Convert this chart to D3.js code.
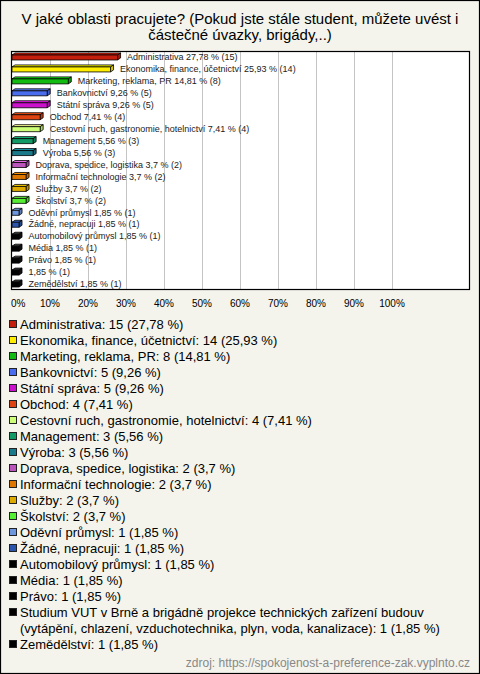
<!DOCTYPE html>
<html>
<head>
<meta charset="utf-8">
<script src="https://cdn.jsdelivr.net/npm/d3@7"></script>
<style>
  html, body { margin: 0; padding: 0; background: #f4f4ec; }
  svg { display: block; }
  text { font-family: Arial, "Liberation Sans", sans-serif; }
</style>
</head>
<body>
<svg id="chart" width="480" height="674"></svg>
<script>
const titleLines = [
  "V jaké oblasti pracujete? (Pokud jste stále student, můžete uvést i",
  "částečné úvazky, brigády,..)"
];
const categories = [
  "Administrativa",
  "Ekonomika, finance, účetnictví",
  "Marketing, reklama, PR",
  "Bankovnictví",
  "Státní správa",
  "Obchod",
  "Cestovní ruch, gastronomie, hotelnictví",
  "Management",
  "Výroba",
  "Doprava, spedice, logistika",
  "Informační technologie",
  "Služby",
  "Školství",
  "Oděvní průmysl",
  "Žádné, nepracuji",
  "Automobilový průmysl",
  "Média",
  "Právo",
  "Studium VUT v Brně a brigádně projekce technických zařízení budouv (vytápění, chlazení, vzduchotechnika, plyn, voda, kanalizace)",
  "Zemědělství"
];
// legend wraps for the long entry
const legendWrap = {
  18: ["Studium VUT v Brně a brigádně projekce technických zařízení budouv",
       "(vytápění, chlazení, vzduchotechnika, plyn, voda, kanalizace)"]
};
const counts = [15, 14, 8, 5, 5, 4, 4, 3, 3, 2, 2, 2, 2, 1, 1, 1, 1, 1, 1, 1];
const percents = [27.78, 25.93, 14.81, 9.26, 9.26, 7.41, 7.41, 5.56, 5.56, 3.7, 3.7, 3.7, 3.7, 1.85, 1.85, 1.85, 1.85, 1.85, 1.85, 1.85];
const colors = [
  "#c41e0c", "#ffee00", "#11bb11", "#4a6cee", "#cc11cc", "#dd4411", "#ccff77",
  "#119966", "#1a7a8a", "#bb55bb", "#dd7700", "#ddaa00", "#55ee33", "#6e96dd",
  "#2a55aa", "#000000", "#000000", "#000000", "#000000", "#000000"
];
const tickValues = [0, 10, 20, 30, 40, 50, 60, 70, 80, 90, 100];
const source = "zdroj: https://spokojenost-a-preference-zak.vyplnto.cz";

const fmt = v => String(v).replace(".", ",");

const svg = d3.select("#chart");
const W = 480, H = 674;

svg.append("rect").attr("x", 0.5).attr("y", 0.5).attr("width", W - 1).attr("height", H - 1)
  .attr("fill", "#f4f4ec").attr("stroke", "#000").attr("stroke-width", 1.2);

// title
svg.append("g").selectAll("text").data(titleLines).join("text")
  .attr("x", 240).attr("y", (d, i) => 24 + i * 16)
  .attr("text-anchor", "middle").attr("font-size", 15).attr("fill", "#000")
  .text(d => d);

// plot area
const plot = { left: 11, right: 470, top: 51, bottom: 290 };
const x = d3.scaleLinear().domain([0, 100]).range([12, 392]);

svg.append("rect").attr("x", plot.left + 0.5).attr("y", plot.top + 0.5)
  .attr("width", plot.right - plot.left - 1).attr("height", plot.bottom - plot.top - 1)
  .attr("fill", "#fff").attr("stroke", "none");

// gridlines
svg.append("g").selectAll("line").data(tickValues.filter(t => t > 0)).join("line")
  .attr("x1", d => Math.round(x(d)) + 0.5).attr("x2", d => Math.round(x(d)) + 0.5)
  .attr("y1", plot.top).attr("y2", plot.bottom)
  .attr("stroke", "#c4c4c4").attr("stroke-width", 1);

svg.append("rect").attr("x", plot.left + 0.5).attr("y", plot.top + 0.5)
  .attr("width", plot.right - plot.left - 1).attr("height", plot.bottom - plot.top - 1)
  .attr("fill", "none").attr("stroke", "#000").attr("stroke-width", 1.2);

const rows = categories.map((c, i) => ({ name: c, count: counts[i], pct: percents[i], color: colors[i], i }));
const yb = d3.scaleBand().domain(d3.range(rows.length)).range([plot.top, plot.bottom]);

const bars = svg.append("g");
const dx = 3, dy = 2;
rows.forEach(d => {
  const cy = yb(d.i) + yb.bandwidth() / 2;
  const x0 = x(0), x1 = x(d.pct);
  const top = cy - 2, bot = cy + 3;
  const c = d3.color(d.color);
  const light = d.color === "#000000" ? "#444" : c.brighter(0.6).formatHex();
  const dark = d.color === "#000000" ? "#111" : c.darker(0.5).formatHex();
  const g = bars.append("g").attr("stroke", "#000").attr("stroke-width", 0.8).attr("stroke-linejoin", "round");
  g.append("path")
    .attr("d", `M${x0},${top} L${x0 + dx},${top - dy} L${x1 + dx},${top - dy} L${x1},${top} Z`)
    .attr("fill", light);
  g.append("path")
    .attr("d", `M${x1},${top} L${x1 + dx},${top - dy} L${x1 + dx},${bot - dy} L${x1},${bot} Z`)
    .attr("fill", dark);
  g.append("rect").attr("x", x0).attr("y", top).attr("width", x1 - x0).attr("height", bot - top)
    .attr("fill", d.color);
  const label = (d.name.length > 60 ? "" : d.name + " ") + fmt(d.pct) + " % (" + d.count + ")";
  bars.append("text").attr("x", x1 + 9.5).attr("y", cy + 3.2)
    .attr("font-size", 9).attr("fill", "#222").text(label);
});

// x tick labels
svg.append("g").selectAll("text").data(tickValues).join("text")
  .attr("x", d => d === 0 ? 11 : x(d))
  .attr("y", 307)
  .attr("text-anchor", d => d === 0 ? "start" : "middle")
  .attr("font-size", 10).attr("fill", "#000")
  .text(d => d + "%");

// legend
const lg = svg.append("g");
let line = 0;
rows.forEach(d => {
  const base = 329 + line * 16;
  lg.append("rect").attr("x", 9.5).attr("y", base - 8.5).attr("width", 7).attr("height", 7)
    .attr("fill", d.color).attr("stroke", "#222").attr("stroke-width", 1);
  const text = d.name + ": " + d.count + " (" + fmt(d.pct) + " %)";
  const parts = legendWrap[d.i];
  if (parts) {
    lg.append("text").attr("x", 20).attr("y", base).attr("font-size", 13).attr("fill", "#000").text(parts[0]);
    line++;
    lg.append("text").attr("x", 20).attr("y", 329 + line * 16).attr("font-size", 13).attr("fill", "#000")
      .text(parts[1] + ": " + d.count + " (" + fmt(d.pct) + " %)");
  } else {
    lg.append("text").attr("x", 20).attr("y", base).attr("font-size", 13).attr("fill", "#000").text(text);
  }
  line++;
});

// source
svg.append("text").attr("x", 470).attr("y", 667).attr("text-anchor", "end")
  .attr("font-size", 12).attr("fill", "#888").text(source);
</script>
</body>
</html>
